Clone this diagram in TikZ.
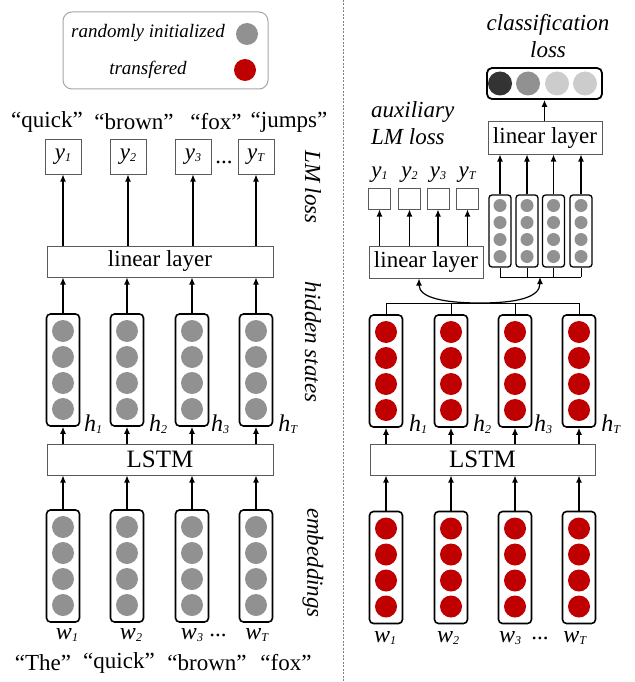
\documentclass[tikz,border=0pt]{standalone}
\usepackage{fontspec}
\setmainfont{Liberation Serif}
\usetikzlibrary{arrows.meta}
\definecolor{cgray}{RGB}{145,145,145}
\definecolor{cred}{RGB}{192,0,0}
\definecolor{cdark}{RGB}{51,51,51}
\definecolor{clight}{RGB}{204,204,204}
\definecolor{cborder}{RGB}{90,90,90}
\newcommand\vsub[2]{\textit{#1}\raisebox{-0.2ex}{\fontsize{12}{12}\selectfont\textit{#2}}}
\newcommand\vcol[4]{%
  \node[vbox] (#1) at (#2,#3) {};
  \foreach \dd in {-39,-13,13,39}{\fill[#4] (#2,#3+\dd) circle[radius=11pt];}
}
\newcommand\scol[3]{%
  \node[sbox] (#1) at (#2,#3) {};
  \foreach \dd in {-25.5,-8.5,8.5,25.5}{\fill[cgray] (#2,#3+\dd) circle[radius=6.5pt];}
}
\tikzset{
  vbox/.style={draw, line width=1.6pt, rounded corners=4pt, minimum width=33pt, minimum height=112pt, inner sep=0pt},
  sbox/.style={draw, line width=1.3pt, rounded corners=3pt, minimum width=22pt, minimum height=72pt, inner sep=0pt},
  plainbox/.style={draw=cborder, line width=1pt, inner sep=0pt, font=\fontsize{23}{27}\selectfont},
  arr/.style={-{Latex[length=7pt,width=6pt]}, line width=1.2pt},
  ln/.style={line width=1pt},
  txt/.style={inner sep=0pt, font=\fontsize{23}{27}\selectfont},
  itxt/.style={inner sep=0pt, font=\fontsize{23}{27}\selectfont\itshape},
  lbl/.style={inner sep=0pt, font=\fontsize{24}{27}\selectfont},
  rot/.style={inner sep=0pt, rotate=-90, font=\fontsize{23}{27}\selectfont\itshape},
}
\begin{document}
\begin{tikzpicture}[x=1pt,y=-1pt]
\useasboundingbox (0,0) rectangle (634,682);
% divider
\coordinate (dtop) at (343,0);
\coordinate (dbot) at (343,682);
\draw[gray, line width=0.8pt, dash pattern=on 2pt off 1.5pt] (dtop) -- (dbot);

% legend
\node[draw=black!35, line width=1pt, rounded corners=9pt, minimum width=205pt, minimum height=77pt, inner sep=0pt] (legend) at (165.5,50.5) {};
\node[inner sep=0pt, font=\fontsize{19}{22}\selectfont\itshape] (lg1) at (148,33) {randomly initialized};
\node[inner sep=0pt, font=\fontsize{19}{22}\selectfont\itshape] (lg2) at (148,70) {transfered};
\fill[cgray] (247,34) circle[radius=11pt];
\fill[cred] (245,70) circle[radius=11pt];

% ================= LEFT =================
\node[txt] (q1) at (47,122) {“quick”};
\node[txt] (q2) at (134,122) {“brown”};
\node[txt] (q3) at (216,122) {“fox”};
\node[txt] (q4) at (289,122) {“jumps”};

\node[plainbox, minimum width=36pt, minimum height=35pt] (yb1) at (63,156.5) {\vsub{y}{1}};
\node[plainbox, minimum width=36pt, minimum height=35pt] (yb2) at (128,156.5) {\vsub{y}{2}};
\node[plainbox, minimum width=36pt, minimum height=35pt] (yb3) at (193,156.5) {\vsub{y}{3}};
\node[plainbox, minimum width=36pt, minimum height=35pt] (yb4) at (256,156.5) {\vsub{y}{T}};
\node[txt] (ydots) at (224,162) {...};

\node[plainbox, minimum width=226pt, minimum height=31pt] (ll) at (160,261.5) {linear layer};

\vcol{hL1}{63}{370}{cgray}
\vcol{hL2}{127}{370}{cgray}
\vcol{hL3}{192}{370}{cgray}
\vcol{hL4}{256}{370}{cgray}

\node[lbl] (hl1) at (93,424) {\vsub{h}{1}};
\node[lbl] (hl2) at (158,424) {\vsub{h}{2}};
\node[lbl] (hl3) at (220,424) {\vsub{h}{3}};
\node[lbl] (hl4) at (288,424) {\vsub{h}{T}};

\node[plainbox, minimum width=226pt, minimum height=31pt, font=\fontsize{25}{28}\selectfont] (lstmL) at (160,459.5) {LSTM};

\vcol{eL1}{63}{566}{cgray}
\vcol{eL2}{127}{566}{cgray}
\vcol{eL3}{192}{566}{cgray}
\vcol{eL4}{256}{566}{cgray}

\node[lbl] (wl1) at (67,635) {\vsub{w}{1}};
\node[lbl] (wl2) at (131,635) {\vsub{w}{2}};
\node[lbl] (wl3) at (192,635) {\vsub{w}{3}};
\node[txt] (wdots) at (218,635) {...};
\node[lbl] (wl4) at (257,635) {\vsub{w}{T}};

\node[txt] (b1) at (43,663) {“The”};
\node[txt] (b2) at (119,663) {“quick”};
\node[txt] (b3) at (207,663) {“brown”};
\node[txt] (b4) at (286,663) {“fox”};

\node[rot] (rl1) at (313,187) {LM loss};
\node[rot] (rl2) at (313,342) {hidden states};
\node[rot] (rl3) at (313,563) {embeddings};

\foreach \i in {1,2,3,4}{
  \draw[arr] (eL\i.north) -- (eL\i.north |- lstmL.south);
  \draw[arr] (lstmL.north -| hL\i) -- (hL\i.south);
  \draw[arr] (hL\i.north) -- (hL\i.north |- ll.south);
  \draw[arr] (ll.north -| yb\i) -- (yb\i.south);
}

% ================= RIGHT =================
\node[itxt, align=center] (clsl) at (548,36.5) {classification\\loss};
\node[draw, line width=1.8pt, rounded corners=5pt, minimum width=115pt, minimum height=31pt, inner sep=0pt] (cb) at (544.5,83.5) {};
\fill[cdark] (500,83.5) circle[radius=12pt];
\fill[cgray] (528,83.5) circle[radius=12pt];
\fill[clight] (557,83.5) circle[radius=12pt];
\fill[clight] (585,83.5) circle[radius=12pt];

\node[plainbox, minimum width=114pt, minimum height=32pt] (tl) at (545,138) {linear layer};
\draw[arr] (tl.north -| cb) -- (cb.south);

\node[itxt, align=left, anchor=west] (aux) at (371,123.5) {auxiliary\\LM loss};

\node[txt] (yy1l) at (379.5,175) {\vsub{y}{1}};
\node[txt] (yy2l) at (409.5,175) {\vsub{y}{2}};
\node[txt] (yy3l) at (438,175) {\vsub{y}{3}};
\node[txt] (yy4l) at (467.5,175) {\vsub{y}{T}};
\node[plainbox, minimum width=22pt, minimum height=21pt] (yy1) at (379.5,198.5) {};
\node[plainbox, minimum width=22pt, minimum height=21pt] (yy2) at (409.5,198.5) {};
\node[plainbox, minimum width=22pt, minimum height=21pt] (yy3) at (438,198.5) {};
\node[plainbox, minimum width=22pt, minimum height=21pt] (yy4) at (467.5,198.5) {};

\node[plainbox, minimum width=114pt, minimum height=32pt] (ll2) at (426,262) {linear layer};

\scol{s1}{500}{231}
\scol{s2}{527}{231}
\scol{s3}{553.5}{231}
\scol{s4}{581}{231}

\foreach \i in {1,2,3,4}{
  \draw[arr] (ll2.north -| yy\i) -- (yy\i.south);
  \draw[arr] (s\i.north) -- (s\i.north |- tl.south);
}

% small bus
\coordinate (sbL) at (500,277);
\coordinate (sbR) at (581,277);
\coordinate (sbA) at (540,277);
\foreach \i in {1,2,3,4}{\draw[ln] (s\i.south) -- (s\i.south |- sbL);}
\draw[ln] (sbL) -- (sbR);

\vcol{r1}{386}{371}{cred}
\vcol{r2}{451}{371}{cred}
\vcol{r3}{515}{371}{cred}
\vcol{r4}{579}{371}{cred}

% big bus
\coordinate (bbL) at (386,303);
\coordinate (bbR) at (579,303);
\coordinate (cv) at (480,303);
\foreach \i in {1,2,3,4}{\draw[ln] (r\i.north) -- (r\i.north |- bbL);}
\draw[ln] (bbL) -- (bbR);
\coordinate (cvL) at (419,278);
\draw[arr] (cv) .. controls (445,303) and (419,298) .. (cvL |- ll2.south);
\draw[arr] (cv) .. controls (515,303) and (540,298) .. (sbA);

\node[lbl] (hr1) at (418,424) {\vsub{h}{1}};
\node[lbl] (hr2) at (482,424) {\vsub{h}{2}};
\node[lbl] (hr3) at (543,424) {\vsub{h}{3}};
\node[lbl] (hr4) at (611,424) {\vsub{h}{T}};

\node[plainbox, minimum width=225pt, minimum height=31pt, font=\fontsize{25}{28}\selectfont] (lstmR) at (482.5,459.5) {LSTM};

\vcol{er1}{386}{567.5}{cred}
\vcol{er2}{451}{567.5}{cred}
\vcol{er3}{515}{567.5}{cred}
\vcol{er4}{579}{567.5}{cred}

\foreach \i in {1,2,3,4}{
  \draw[arr] (er\i.north) -- (er\i.north |- lstmR.south);
  \draw[arr] (lstmR.north -| r\i) -- (r\i.south);
}

\node[lbl] (wr1) at (385,638) {\vsub{w}{1}};
\node[lbl] (wr2) at (448,638) {\vsub{w}{2}};
\node[lbl] (wr3) at (510,638) {\vsub{w}{3}};
\node[txt] (wrdots) at (540,638) {...};
\node[lbl] (wr4) at (575,638) {\vsub{w}{T}};
\end{tikzpicture}
\end{document}
